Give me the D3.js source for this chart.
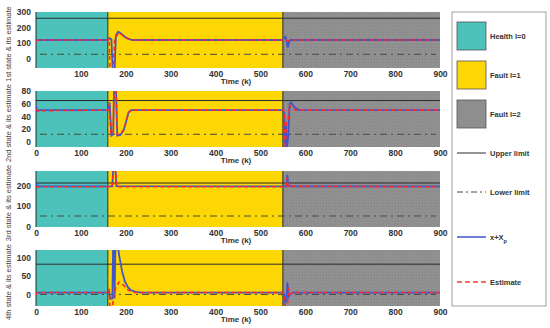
<!DOCTYPE html>
<html lang="en">
<head>
<meta charset="UTF-8">
<title>States and estimates</title>
<script src="https://d3js.org/d3.v7.min.js"></script>
<style>
  * { margin: 0; padding: 0; box-sizing: border-box; }
  body { background: #fff; font-family: "Liberation Sans", Arial, sans-serif; }
  .tick text { font-weight: bold; fill: #333; }
</style>
</head>
<body>
<div id="chart"></div>
<script>
// fault modes along time
const modes = [
  { name: "Health l=0", from: 0, to: 160, color: "#4cc2bb" },
  { name: "Fault l=1", from: 160, to: 550, color: "#fdd703" },
  { name: "Fault l=2", from: 550, to: 900, color: "#8e8e8e" }
];
const xTicks = [0, 100, 200, 300, 400, 500, 600, 700, 800, 900];

const stateLabels = ["1st state & its estimate", "2nd state & its estimate",
                     "3rd state & its estimate", "4th state & its estimate"];
const yDomains = [[-60, 300], [-8, 80], [0, 270], [-30, 120]];
const yTicks = [[0, 100, 200, 300], [0, 20, 40, 60, 80], [0, 100, 200], [0, 50, 100]];
const upperLimits = [260, 65, 212, 82];
const lowerLimits = [28, 12, 53, 1];

// [k, value] points
const state1 = [[0,118],[3,120],[160,120],[164,132],[168,125],[171,-90],[175,-90],[178,150],[183,173],[190,160],[198,140],[206,127],[215,120],[550,120],[553,132],[556,140],[559,100],[561,72],[564,110],[567,120],[900,120]];
const est1 = [[0,110],[3,120],[160,120],[163,126],[165,-90],[172,-90],[175,120],[180,150],[186,168],[195,145],[205,128],[215,120],[550,120],[556,124],[561,112],[566,120],[900,120]];
const state2 = [[0,56],[3,48],[8,50],[160,50],[164,62],[168,10],[172,12],[174,90],[178,90],[181,10],[188,11],[195,18],[200,30],[206,46],[212,50],[550,50],[553,44],[555,-10],[557,25],[559,-10],[562,10],[565,60],[568,62],[575,55],[585,50],[900,50]];
const est2 = [[0,52],[3,49],[160,50],[163,60],[167,12],[172,14],[174,90],[178,90],[181,12],[188,13],[196,20],[206,46],[212,50],[550,50],[553,48],[555,-10],[558,30],[562,32],[565,58],[570,52],[580,50],[900,50]];
const state3 = [[0,210],[3,196],[160,196],[170,196],[172,280],[177,280],[179,197],[550,196],[558,197],[560,252],[562,200],[570,196],[900,196]];
const est3 = [[0,190],[3,194],[160,194],[170,195],[172,270],[178,270],[180,194],[215,194],[550,194],[557,196],[559,238],[562,196],[900,194]];
const state4 = [[0,2],[3,6],[160,6],[163,10],[165,-10],[170,-10],[172,140],[174,140],[175,-10],[177,140],[181,140],[186,100],[192,62],[198,36],[205,20],[212,12],[222,8],[235,6],[550,6],[553,0],[555,-20],[558,-15],[560,33],[563,-5],[566,2],[572,6],[900,6]];
const est4 = [[0,0],[3,6],[160,6],[163,16],[165,-40],[170,-40],[173,0],[178,20],[185,34],[195,26],[205,13],[215,7],[225,6],[550,6],[554,-5],[556,-40],[560,-40],[562,18],[566,2],[572,6],[900,6]];
const states = [state1, state2, state3, state4];
const estimates = [est1, est2, est3, est4];

// panel geometry
const W = 550, H = 328;
const plotLeft = 36, plotRight = 440;
const panelTops = [12, 91, 171, 250];
const panelH = 56;

const svg = d3.select("#chart").append("svg")
  .attr("width", W).attr("height", H)
  .style("font-family", "'Liberation Sans', Arial, sans-serif");

const defs = svg.append("defs");
const pat = defs.append("pattern").attr("id", "greyTex")
  .attr("width", 3).attr("height", 3).attr("patternUnits", "userSpaceOnUse");
pat.append("rect").attr("width", 3).attr("height", 3).attr("fill", "#8f8f8f");
pat.append("rect").attr("width", 1).attr("height", 1).attr("fill", "#969696");
pat.append("rect").attr("x", 2).attr("y", 2).attr("width", 1).attr("height", 1).attr("fill", "#888888");

const x = d3.scaleLinear().domain([0, 900]).range([plotLeft, plotRight]);

states.forEach((st, i) => {
  const top = panelTops[i];
  const y = d3.scaleLinear().domain(yDomains[i]).range([top + panelH, top]);
  const g = svg.append("g");

  defs.append("clipPath").attr("id", "clip" + i)
    .append("rect").attr("x", plotLeft).attr("y", top)
    .attr("width", plotRight - plotLeft).attr("height", panelH);

  // mode backgrounds
  g.selectAll("rect.mode").data(modes).enter().append("rect")
    .attr("x", d => x(d.from)).attr("y", top)
    .attr("width", d => x(d.to) - x(d.from)).attr("height", panelH)
    .attr("fill", (d, j) => j === 2 ? "url(#greyTex)" : d.color);

  // mode boundaries
  g.selectAll("line.bound").data([0, 160, 550]).enter().append("line")
    .attr("x1", d => x(d)).attr("x2", d => x(d))
    .attr("y1", top).attr("y2", top + panelH)
    .attr("stroke", "#2b2b2b").attr("stroke-width", 1);

  const clip = g.append("g").attr("clip-path", `url(#clip${i})`);

  clip.append("line")
    .attr("x1", plotLeft).attr("x2", plotRight)
    .attr("y1", y(upperLimits[i])).attr("y2", y(upperLimits[i]))
    .attr("stroke", "#2b2b2b").attr("stroke-width", 1);
  clip.append("line")
    .attr("x1", plotLeft + 4).attr("x2", plotRight - 4)
    .attr("y1", y(lowerLimits[i])).attr("y2", y(lowerLimits[i]))
    .attr("stroke", "#4a4a3a").attr("stroke-width", 1)
    .attr("stroke-dasharray", "7,4,2,4");

  const line = d3.line().x(d => x(d[0])).y(d => y(d[1]));

  clip.append("path").datum(st).attr("d", line)
    .attr("fill", "none").attr("stroke", "#3f55c8").attr("stroke-width", 1.8);
  clip.append("path").datum(estimates[i]).attr("d", line)
    .attr("fill", "none").attr("stroke", "#ff2a2a").attr("stroke-width", 1.6)
    .attr("stroke-dasharray", "4,3");

  // axes
  const xa = d3.axisBottom(x).tickValues(i === 0 ? xTicks.slice(1) : xTicks)
    .tickSize(0).tickPadding(3);
  g.append("g").attr("transform", `translate(0,${top + panelH})`).call(xa)
    .call(a => a.select(".domain").remove())
    .selectAll("text").style("font-size", "8.5px");

  const ya = d3.axisLeft(y).tickValues(yTicks[i]).tickSize(0).tickPadding(5);
  g.append("g").attr("transform", `translate(${plotLeft},0)`).call(ya)
    .call(a => a.select(".domain").remove())
    .selectAll("text").style("font-size", "8.5px");

  g.append("text")
    .attr("x", x(450) - 2).attr("y", top + panelH + 15.5)
    .attr("text-anchor", "middle")
    .style("font-size", "8px").style("font-weight", "bold").attr("fill", "#333")
    .text("Time (k)");

  g.append("text")
    .attr("transform", `translate(11,${top + panelH / 2 + 4}) rotate(-90)`)
    .attr("text-anchor", "middle")
    .style("font-size", "7.5px").attr("fill", "#444")
    .text(stateLabels[i]);
});

// legend
const lg = svg.append("g");
lg.append("rect").attr("x", 452).attr("y", 12).attr("width", 94).attr("height", 294)
  .attr("fill", "#fff").attr("stroke", "#a0a0a0").attr("stroke-width", 1);

const patchY = [22, 61, 100];
modes.forEach((m, j) => {
  lg.append("rect").attr("x", 457).attr("y", patchY[j]).attr("width", 29).attr("height", 28)
    .attr("fill", j === 2 ? "#8e8e8e" : m.color).attr("stroke", "#555").attr("stroke-width", 0.8);
  lg.append("text").attr("x", 490).attr("y", patchY[j] + 17)
    .style("font-size", "7.5px").style("font-weight", "bold").attr("fill", "#333")
    .text(m.name);
});

const legendLines = [
  { y: 153, label: "Upper limit", stroke: "#2b2b2b", dash: null, w: 1 },
  { y: 192, label: "Lower limit", stroke: "#4a4a3a", dash: "6,3,2,3", w: 1 },
  { y: 237, label: "x+X", stroke: "#3f55c8", dash: null, w: 1.5 },
  { y: 282, label: "Estimate", stroke: "#ff3a3a", dash: "5,3", w: 1.5 }
];
legendLines.forEach(l => {
  lg.append("line").attr("x1", 457).attr("x2", 486).attr("y1", l.y).attr("y2", l.y)
    .attr("stroke", l.stroke).attr("stroke-width", l.w).attr("stroke-dasharray", l.dash);
  const t = lg.append("text").attr("x", 490).attr("y", l.y + 2.5)
    .style("font-size", "7.5px").style("font-weight", "bold").attr("fill", "#333")
    .text(l.label);
  if (l.label === "x+X") {
    t.append("tspan").attr("dy", 3).style("font-size", "5.5px").text("p");
  }
});
</script>
</body>
</html>
